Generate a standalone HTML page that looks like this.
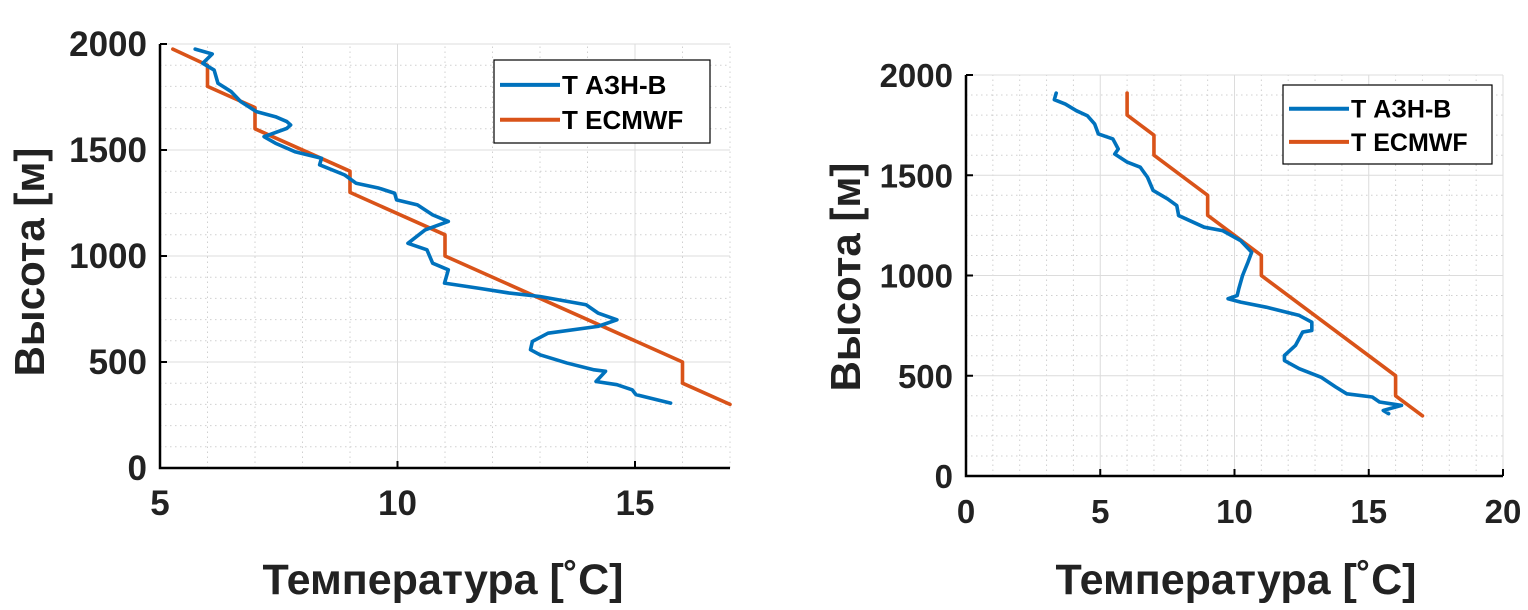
<!DOCTYPE html>
<html><head><meta charset="utf-8"><style>
html,body{margin:0;padding:0;background:#fff;}
svg{display:block;font-family:"Liberation Sans",sans-serif;font-weight:bold;}
</style></head><body>
<svg id="fig" width="1528" height="610" viewBox="0 0 1528 610" xmlns="http://www.w3.org/2000/svg"></svg>
<script>
// Left chart data
const leftAznT = [5.74,6.10,5.90,6.14,6.22,6.50,6.70,7.03,7.43,7.67,7.75,7.67,7.19,7.43,7.84,8.40,8.36,8.89,9.13,9.61,9.94,9.98,10.42,10.74,11.07,10.58,10.22,10.62,10.74,11.07,10.99,11.71,12.36,13.0,13.97,14.22,14.62,14.22,13.17,12.84,12.80,13.0,13.57,14.14,14.38,14.18,14.62,14.94,15.02,15.75];
const leftAznH = [1976,1953,1909,1877,1815,1775,1728,1681,1657,1634,1618,1602,1563,1532,1492,1461,1430,1382,1343,1320,1296,1265,1241,1194,1163,1123,1060,1029,966,935,872,848,825,809,770,731,699,668,636,597,558,534,495,463,456,408,393,369,346,306];
const leftEcT = [5.27,6.0,6.0,7.0,7.0,9.0,9.0,11.0,11.0,16.0,16.0,17.0];
const leftEcH = [1976,1900,1800,1700,1600,1400,1300,1100,1000,500,400,300];
const leftXTicks = [5,10,15];
const yTicks = [0,500,1000,1500,2000];
// Right chart data
const rightAznT = [3.36,3.29,3.70,4.11,4.52,4.79,4.93,5.47,5.67,5.54,6.01,6.49,6.76,6.97,7.51,7.85,7.92,8.87,9.55,10.23,10.64,10.50,10.30,10.16,10.10,9.76,10.23,11.18,12.41,12.88,12.88,12.54,12.27,11.86,11.86,12.41,13.22,13.77,14.18,15.13,15.40,16.22,15.54,15.74];
const rightAznH = [1910,1877,1855,1822,1797,1756,1706,1681,1631,1606,1565,1540,1490,1424,1382,1349,1299,1241,1224,1174,1116,1066,1000,934,900,884,867,842,801,767,726,718,651,601,576,535,493,444,410,394,369,352,327,311];
const rightEcT = [6.0,6.0,7.0,7.0,9.0,9.0,11.0,11.0,16.0,16.0,17.0];
const rightEcH = [1910,1800,1700,1600,1400,1300,1100,1000,500,400,300];
const rightXTicks = [0,5,10,15,20];

const NS="http://www.w3.org/2000/svg";
const svg=document.getElementById('fig');
function mk(tag,attrs,parent){const e=document.createElementNS(NS,tag);for(const k in attrs)e.setAttribute(k,attrs[k]);(parent||svg).appendChild(e);return e;}

function chart(cfg){
  const g=mk('g',{});
  
  
  const sx=v=>cfg.x0+(v-cfg.xmin)/(cfg.xmax-cfg.xmin)*(cfg.x1-cfg.x0);
  const sy=v=>cfg.y0-(v-0)/2000*(cfg.y0-cfg.y1);
  for(let v=Math.ceil(cfg.xmin);v<=cfg.xmax;v++){
    const l=mk('line',{x1:sx(v),x2:sx(v),y1:cfg.y0,y2:cfg.y1,stroke:(v%5===0)?'#dcdcdc':'#d0d0d0','stroke-width':1,'stroke-dasharray':(v%5===0)?'none':'1.5 3.5'},g);
    
    
  }
  for(let v=0;v<=2000;v+=100){
    const l=mk('line',{x1:cfg.x0,x2:cfg.x1,y1:sy(v),y2:sy(v),stroke:(v%500===0)?'#dcdcdc':'#d0d0d0','stroke-width':1,'stroke-dasharray':(v%500===0)?'none':'1.5 3.5'},g);
    
    
  }
  const ax=mk('path',{d:`M${cfg.x0},${cfg.y1}V${cfg.y0}H${cfg.x1}`,stroke:'#000','stroke-width':2.5,fill:'none'},g);
  
  
  cfg.xticks.forEach(v=>{
    mk('line',{x1:sx(v),x2:sx(v),y1:cfg.y0,y2:cfg.y0-7,stroke:'#000','stroke-width':2},g);
    const t=mk('text',{x:sx(v),y:cfg.y0+47,'text-anchor':'middle','font-size':cfg.fs,fill:'#222'},g);
    t.textContent=v;
    
    
  });
  yTicks.forEach(v=>{
    mk('line',{x1:cfg.x0,x2:cfg.x0+7,y1:sy(v),y2:sy(v),stroke:'#000','stroke-width':2},g);
    const t=mk('text',{x:cfg.x0-13,y:sy(v)+12,'text-anchor':'end','font-size':cfg.fs,fill:'#222'},g);
    t.textContent=v;
    
    
  });
  const line=(T,H,color,name)=>{
    const p=mk('polyline',{points:T.map((t,i)=>sx(t)+','+sy(H[i])).join(' '),fill:'none',stroke:color,'stroke-width':3.6,'stroke-linejoin':'round','stroke-linecap':'round'},g);
    
    
  };
  line(cfg.ecT,cfg.ecH,'#d95319','series-t-ecmwf');
  line(cfg.azT,cfg.azH,'#0072bd','series-t-azn-b');
  const lg=mk('g',{},g);
  
  
  const L=cfg.leg;
  mk('rect',{x:L.x,y:L.y,width:L.w,height:L.h,fill:'#fff',stroke:'#000','stroke-width':1.2},lg);
  [['T АЗН-В','#0072bd'],['T ECMWF','#d95319']].forEach((e,i)=>{
    const yy=L.y+L.h*(0.3+0.42*i);
    mk('line',{x1:L.x+6,x2:L.x+66,y1:yy,y2:yy,stroke:e[1],'stroke-width':4},lg);
    const t=mk('text',{x:L.x+68,y:yy+9,'font-size':L.fs,fill:'#000'},lg);
    t.textContent=e[0];
    
    
  });
  const xt=mk('text',{x:cfg.xtx,y:594,'text-anchor':'middle','font-size':43,fill:'#222'},g);
  xt.textContent='Температура [˚C]';
  
  
  const yt=mk('text',{x:0,y:0,'text-anchor':'middle','font-size':42,fill:'#222',transform:`translate(${cfg.ytx},${cfg.yty}) rotate(-90)`},g);
  yt.textContent='Высота [м]';
  
  
}

chart({name:'left-chart',x0:160,x1:730,xmin:5,xmax:17,y0:468,y1:44,xticks:leftXTicks,fs:35,
  azT:leftAznT,azH:leftAznH,ecT:leftEcT,ecH:leftEcH,
  leg:{x:494,y:60,w:216,h:83,fs:26},xtx:443,ytx:44,yty:262});
chart({name:'right-chart',x0:966,x1:1503,xmin:0,xmax:20,y0:476,y1:75,xticks:rightXTicks,fs:33,
  azT:rightAznT,azH:rightAznH,ecT:rightEcT,ecH:rightEcH,
  leg:{x:1283,y:85,w:209,h:79,fs:25},xtx:1236,ytx:860,yty:277});
</script>
</body></html>
